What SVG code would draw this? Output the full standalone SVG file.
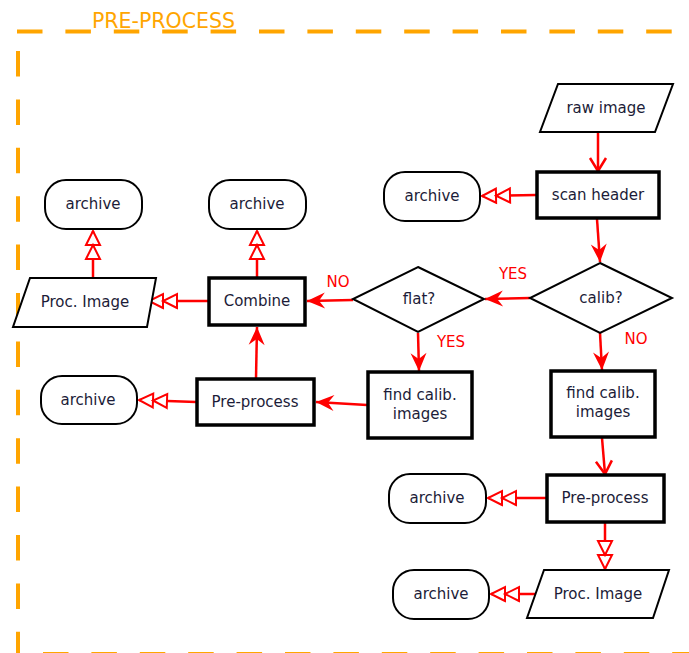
<svg xmlns="http://www.w3.org/2000/svg" width="689" height="653" viewBox="0 0 689 653">
  <style>
    .frame { stroke: #FFA500; stroke-width: 4; fill: none; stroke-dasharray: 25.5 22.9; }
    .title { font-family: "DejaVu Sans", sans-serif; font-size: 20.5px; fill: #FFA500; }
    .lbl { font-family: "DejaVu Sans", sans-serif; font-size: 15px; fill: #1c1c38; text-anchor: middle; }
    .cond { font-family: "DejaVu Sans", sans-serif; font-size: 15px; fill: #ff0000; text-anchor: middle; }
    .proc { fill: #ffffff; stroke: #000000; stroke-width: 3.5; }
    .term { fill: #ffffff; stroke: #000000; stroke-width: 2; }
    .data { fill: #ffffff; stroke: #000000; stroke-width: 2; stroke-linejoin: miter; }
    .dec { fill: #ffffff; stroke: #000000; stroke-width: 2; }
    .flow { stroke: #ff0000; stroke-width: 2.5; fill: none; }
    .solid { marker-end: url(#head); }
    .open { marker-end: url(#vee); }
    .store { marker-end: url(#dbl); }
  </style>
  <defs>
    <marker id="head" markerUnits="userSpaceOnUse" orient="auto" refX="0" refY="0" markerWidth="20" markerHeight="20" overflow="visible">
      <path d="M0,0 L-18,-8 L-12,0 L-18,8 Z" fill="#ff0000" stroke="none"/>
    </marker>
    <marker id="vee" markerUnits="userSpaceOnUse" orient="auto" refX="0" refY="0" markerWidth="20" markerHeight="20" overflow="visible">
      <path d="M-13,-8 L0,0 L-13,8" fill="none" stroke="#ff0000" stroke-width="2.5"/>
    </marker>
    <marker id="dbl" markerUnits="userSpaceOnUse" orient="auto" refX="0" refY="0" markerWidth="40" markerHeight="20" overflow="visible">
      <path d="M-14,-7 L0,0 L-14,7 Z M-28,-7 L-14,0 L-28,7 Z" fill="#ffffff" stroke="#ff0000" stroke-width="2" stroke-linejoin="miter"/>
    </marker>
  </defs>

  <!-- dashed boundary of the pre-process stage -->
  <g id="boundary">
    <line class="frame" x1="17" y1="31.5" x2="689" y2="31.5"/>
    <line class="frame" x1="18" y1="51" x2="18" y2="660"/>
    <line class="frame" x1="43" y1="654" x2="689" y2="654"/>
    <text class="title" x="92" y="28">PRE-PROCESS</text>
  </g>

  <!-- connectors -->
  <g id="connectors">
    <line class="flow open" x1="598" y1="133" x2="598" y2="171"/>
    <line class="flow store" x1="536" y1="195" x2="482" y2="196"/>
    <line class="flow solid" x1="597" y1="219" x2="600" y2="262"/>
    <line class="flow solid" x1="530" y1="298" x2="485" y2="299"/>
    <line class="flow solid" x1="600" y1="333" x2="602" y2="370"/>
    <line class="flow solid" x1="418" y1="333" x2="419" y2="371"/>
    <line class="flow solid" x1="353" y1="300" x2="307" y2="301"/>
    <line class="flow solid" x1="367" y1="405" x2="316" y2="402"/>
    <line class="flow solid" x1="256" y1="378" x2="257" y2="327"/>
    <line class="flow store" x1="196" y1="402" x2="139" y2="400"/>
    <line class="flow store" x1="257" y1="277" x2="257" y2="231"/>
    <line class="flow store" x1="208" y1="301" x2="149" y2="301"/>
    <line class="flow store" x1="93" y1="278" x2="93" y2="231"/>
    <line class="flow open" x1="602" y1="438" x2="605" y2="474"/>
    <line class="flow store" x1="546" y1="498" x2="488" y2="498"/>
    <line class="flow store" x1="605" y1="523" x2="605" y2="569"/>
    <line class="flow store" x1="536" y1="594" x2="491" y2="594"/>
    <text class="cond" x="513" y="279">YES</text>
    <text class="cond" x="451" y="347">YES</text>
    <text class="cond" x="636" y="344">NO</text>
    <text class="cond" x="338" y="287">NO</text>
  </g>

  <!-- right column -->
  <g id="raw-image">
    <polygon class="data" points="558,84 673,84 655,132 540,132"/>
    <text class="lbl" x="606" y="113">raw image</text>
  </g>
  <g id="scan-header">
    <rect class="proc" x="537" y="172" width="122" height="46"/>
    <text class="lbl" x="598" y="200">scan header</text>
  </g>
  <g id="archive-scan">
    <rect class="term" x="384" y="172" width="96" height="49" rx="21" ry="21"/>
    <text class="lbl" x="432" y="201">archive</text>
  </g>
  <g id="calib">
    <polygon class="dec" points="600,263 672,298 600,333 530,298"/>
    <text class="lbl" x="601" y="303">calib?</text>
  </g>
  <g id="find-calib-right">
    <rect class="proc" x="551" y="371" width="104" height="66"/>
    <text class="lbl" x="603" y="398">find calib.</text>
    <text class="lbl" x="603" y="417">images</text>
  </g>
  <g id="preprocess-right">
    <rect class="proc" x="547" y="475" width="117" height="47"/>
    <text class="lbl" x="605" y="503">Pre-process</text>
  </g>
  <g id="archive-preprocess-right">
    <rect class="term" x="389" y="474" width="97" height="49" rx="21" ry="21"/>
    <text class="lbl" x="437" y="503">archive</text>
  </g>
  <g id="proc-image-right">
    <polygon class="data" points="544,570 669,570 653,618 527,618"/>
    <text class="lbl" x="598" y="599">Proc. Image</text>
  </g>
  <g id="archive-proc-right">
    <rect class="term" x="393" y="570" width="96" height="49" rx="21" ry="21"/>
    <text class="lbl" x="441" y="599">archive</text>
  </g>

  <!-- calibration branch -->
  <g id="flat">
    <polygon class="dec" points="418,267 484,299 418,332 353,299"/>
    <text class="lbl" x="419" y="304">flat?</text>
  </g>
  <g id="find-calib-left">
    <rect class="proc" x="368" y="372" width="104" height="66"/>
    <text class="lbl" x="420" y="400">find calib.</text>
    <text class="lbl" x="420" y="419">images</text>
  </g>
  <g id="preprocess-left">
    <rect class="proc" x="197" y="379" width="117" height="46"/>
    <text class="lbl" x="255" y="407">Pre-process</text>
  </g>
  <g id="archive-preprocess-left">
    <rect class="term" x="41" y="376" width="96" height="48" rx="21" ry="21"/>
    <text class="lbl" x="88" y="405">archive</text>
  </g>
  <g id="combine">
    <rect class="proc" x="209" y="278" width="96" height="47"/>
    <text class="lbl" x="257" y="306">Combine</text>
  </g>
  <g id="archive-combine">
    <rect class="term" x="209" y="180" width="97" height="49" rx="21" ry="21"/>
    <text class="lbl" x="257" y="209">archive</text>
  </g>
  <g id="proc-image-left">
    <polygon class="data" points="30,278 156,278 147,327 13,327"/>
    <text class="lbl" x="85" y="307">Proc. Image</text>
  </g>
  <g id="archive-proc-left">
    <rect class="term" x="45" y="180" width="97" height="49" rx="21" ry="21"/>
    <text class="lbl" x="93" y="209">archive</text>
  </g>
</svg>
